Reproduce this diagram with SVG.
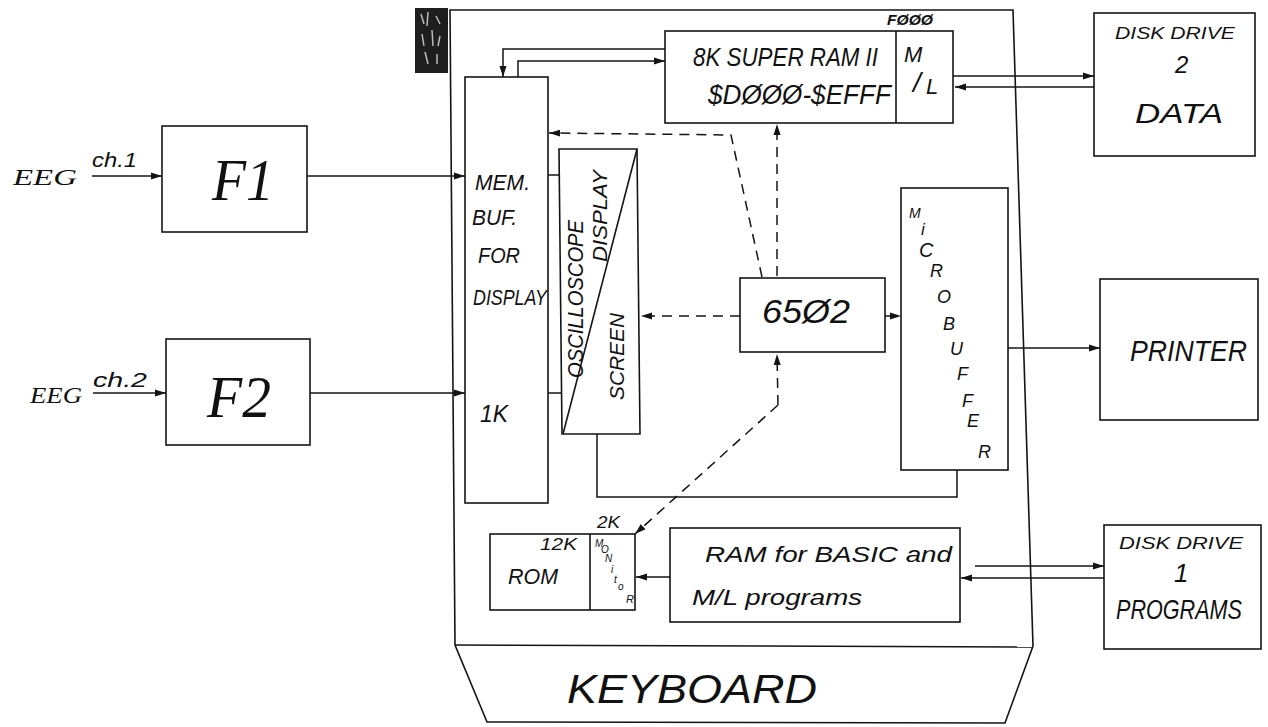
<svg xmlns="http://www.w3.org/2000/svg" width="1268" height="727" viewBox="0 0 1268 727">
<style>
.b{fill:none;stroke:#141414;stroke-width:1.6}
.c{fill:none;stroke:#141414;stroke-width:1.5}
.d{fill:none;stroke:#141414;stroke-width:1.5;stroke-dasharray:10 7}
.t{font-family:"Liberation Sans",Arial,sans-serif;font-style:italic;fill:#111}
.s{font-family:"Liberation Serif","Times New Roman",serif;font-style:italic;fill:#111}
</style>
<defs>
<marker id="ah" markerUnits="userSpaceOnUse" markerWidth="12" markerHeight="8" refX="11" refY="4" orient="auto">
<path d="M0,0.5 L11,4 L0,7.5 z" fill="#141414"/>
</marker>
</defs>
<rect width="1268" height="727" fill="#fff"/>

<g id="computer">
<path class="b" d="M450,10 L1013,10 L1033,646 L1005,723 L487,722 L455,645 L450,10 z"/>
<path class="b" d="M455,645 L1033,647"/>
<rect x="415" y="8" width="33" height="65" fill="#1e1e1e"/>
<path d="M421,14 l3,10 M428,12 l-1,14 M436,16 l4,8 M422,34 l2,12 M432,30 l1,16 M440,36 l-2,10 M425,52 l3,12 M437,54 l0,10" stroke="#bbb" stroke-width="1.5"/>
</g>

<g id="keyboard">
<text class="t" x="567" y="703" font-size="40" textLength="250" lengthAdjust="spacingAndGlyphs">KEYBOARD</text>
</g>

<g id="f1">
<rect class="b" x="162" y="126" width="145" height="106"/>
<text class="s" x="212" y="200" font-size="60" textLength="62" lengthAdjust="spacingAndGlyphs">F1</text>
</g>
<g id="f2">
<rect class="b" x="166" y="339" width="144" height="106"/>
<text class="s" x="207" y="417" font-size="60" textLength="64" lengthAdjust="spacingAndGlyphs">F2</text>
</g>
<g id="eeg1">
<text class="s" x="13" y="185" font-size="24" textLength="64" lengthAdjust="spacingAndGlyphs">EEG</text>
<text class="t" x="92" y="167" font-size="20" font-style="normal" textLength="45" lengthAdjust="spacingAndGlyphs">ch.1</text>
</g>
<g id="eeg2">
<text class="s" x="30" y="403" font-size="24" textLength="52" lengthAdjust="spacingAndGlyphs">EEG</text>
<text class="t" x="93" y="387" font-size="20" font-style="normal" textLength="54" lengthAdjust="spacingAndGlyphs">ch.2</text>
</g>

<g id="membuf">
<rect class="b" x="465" y="77" width="83" height="426"/>
<text class="t" x="475" y="190" font-size="22" textLength="55" lengthAdjust="spacingAndGlyphs">MEM.</text>
<text class="t" x="472" y="225" font-size="22" textLength="45" lengthAdjust="spacingAndGlyphs">BUF.</text>
<text class="t" x="478" y="263" font-size="22" textLength="42" lengthAdjust="spacingAndGlyphs">FOR</text>
<text class="t" x="473" y="305" font-size="22" textLength="74" lengthAdjust="spacingAndGlyphs">DISPLAY</text>
<text class="t" x="480" y="422" font-size="24" textLength="28" lengthAdjust="spacingAndGlyphs">1K</text>
</g>

<g id="screen">
<path class="b" d="M559,149 L637,149 L640,434 L562,434 z"/>
<path class="b" d="M637,149 L563,434"/>
<text class="t" transform="translate(583,378) rotate(-90)" font-size="22" textLength="158" lengthAdjust="spacingAndGlyphs">OSCILLOSCOPE</text>
<text class="t" transform="translate(607,262) rotate(-90)" font-size="20" textLength="92" lengthAdjust="spacingAndGlyphs">DISPLAY</text>
<text class="t" transform="translate(624,400) rotate(-90)" font-size="20" textLength="87" lengthAdjust="spacingAndGlyphs">SCREEN</text>
</g>

<g id="superram">
<rect class="b" x="665" y="31" width="288" height="92"/>
<path class="b" d="M896,31 L896,123"/>
<text class="t" transform="translate(693,66) scale(0.86,1)" font-size="26">8K SUPER RAM II</text>
<text class="t" x="708" y="104" font-size="28" textLength="183" lengthAdjust="spacingAndGlyphs">$DØØØ-$EFFF</text>
<text class="t" x="887" y="25" font-size="14" font-weight="bold" textLength="46" lengthAdjust="spacingAndGlyphs">FØØØ</text>
<text class="t" x="904" y="62" font-size="22">M</text>
<text class="t" x="913" y="92" font-size="28">/</text>
<text class="t" x="926" y="94" font-size="22">L</text>
</g>

<g id="cpu">
<rect class="b" x="740" y="278" width="145" height="74"/>
<text class="t" x="762" y="323" font-size="34" textLength="88" lengthAdjust="spacingAndGlyphs">65Ø2</text>
</g>

<g id="microbuffer">
<rect class="b" x="901" y="188" width="107" height="282"/>
<g class="t" font-size="18">
<text x="909" y="218" font-size="14">M</text>
<text x="921" y="235" font-size="17">i</text>
<text x="919" y="257" font-size="20">C</text>
<text x="930" y="277">R</text>
<text x="937" y="303">O</text>
<text x="943" y="330">B</text>
<text x="950" y="355">U</text>
<text x="957" y="380">F</text>
<text x="962" y="407">F</text>
<text x="967" y="427">E</text>
<text x="978" y="458">R</text>
</g>
</g>

<g id="printer">
<rect class="b" x="1100" y="279" width="158" height="141"/>
<text class="t" transform="translate(1130,361) scale(0.89,1)" font-size="30">PRINTER</text>
</g>

<g id="diskdrive2">
<rect class="b" x="1094" y="13" width="161" height="143"/>
<text class="t" x="1115" y="39" font-size="17" textLength="120" lengthAdjust="spacingAndGlyphs">DISK DRIVE</text>
<text class="t" x="1175" y="73" font-size="24">2</text>
<text class="t" x="1135" y="123" font-size="28" textLength="88" lengthAdjust="spacingAndGlyphs">DATA</text>
</g>

<g id="diskdrive1">
<rect class="b" x="1104" y="525" width="157" height="124"/>
<text class="t" x="1119" y="549" font-size="17" textLength="124" lengthAdjust="spacingAndGlyphs">DISK DRIVE</text>
<text class="t" x="1174" y="582" font-size="26">1</text>
<text class="t" transform="translate(1116,619) scale(0.8,1)" font-size="27">PROGRAMS</text>
</g>

<g id="rom">
<rect class="b" x="490" y="534" width="145" height="76"/>
<path class="b" d="M590,534 L590,610"/>
<text class="t" x="540" y="550" font-size="16" textLength="37" lengthAdjust="spacingAndGlyphs">12K</text>
<text class="t" x="508" y="584" font-size="22" textLength="50" lengthAdjust="spacingAndGlyphs">ROM</text>
<text class="t" x="597" y="528" font-size="16" textLength="23" lengthAdjust="spacingAndGlyphs">2K</text>
<g class="t" font-size="10">
<text x="595" y="547">M</text>
<text x="601" y="553">O</text>
<text x="605" y="562">N</text>
<text x="611" y="573">i</text>
<text x="614" y="583">t</text>
<text x="618" y="590">o</text>
<text x="626" y="603" font-size="11">R</text>
</g>
</g>

<g id="rambasic">
<rect class="b" x="670" y="528" width="290" height="94"/>
<text class="t" x="705" y="562" font-size="22" textLength="247" lengthAdjust="spacingAndGlyphs">RAM  for  BASIC and</text>
<text class="t" x="692" y="605" font-size="22" textLength="170" lengthAdjust="spacingAndGlyphs">M/L  programs</text>
</g>

<g id="connectors">
<path class="c" d="M92,176 L162,176" marker-end="url(#ah)"/>
<path class="c" d="M93,393 L166,393" marker-end="url(#ah)"/>
<path class="c" d="M307,176 L465,176" marker-end="url(#ah)"/>
<path class="c" d="M310,393 L465,393" marker-end="url(#ah)"/>
<path class="c" d="M548,175 L559,175"/>
<path class="c" d="M548,393 L561,393"/>
<path class="c" d="M665,49 L503,49 L503,77" marker-end="url(#ah)"/>
<path class="c" d="M518,77 L518,61 L665,61" marker-end="url(#ah)"/>
<path class="c" d="M953,76 L1094,76" marker-end="url(#ah)"/>
<path class="c" d="M1094,87 L955,87" marker-end="url(#ah)"/>
<path class="d" d="M762,277 L731,135 L549,133" marker-end="url(#ah)"/>
<path class="d" d="M777,276 L777,124" marker-end="url(#ah)"/>
<path class="d" d="M740,316 L641,316" marker-end="url(#ah)"/>
<path class="d" d="M885,316 L901,316" marker-end="url(#ah)"/>
<path class="d" d="M778,405 L777,354" marker-end="url(#ah)"/>
<path class="d" d="M778,405 L635,534" marker-end="url(#ah)"/>
<path class="c" d="M1008,348 L1100,348" marker-end="url(#ah)"/>
<path class="c" d="M597,434 L597,497 L957,497 L957,470"/>
<path class="c" d="M670,577 L636,577" marker-end="url(#ah)"/>
<path class="c" d="M975,566 L1104,566" marker-end="url(#ah)"/>
<path class="c" d="M1104,578 L961,578" marker-end="url(#ah)"/>
</g>
</svg>
